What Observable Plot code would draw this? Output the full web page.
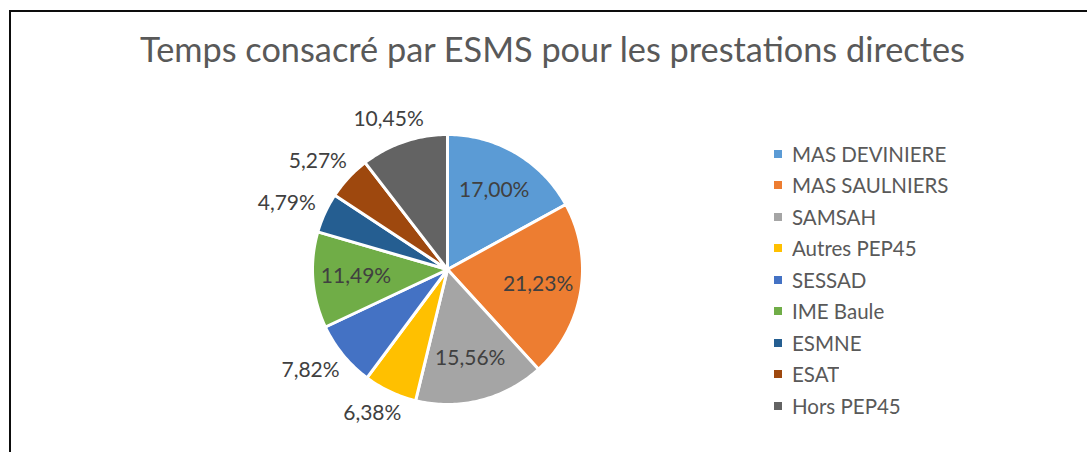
<!DOCTYPE html>
<html>
<head>
<meta charset="utf-8">
<script src="https://cdn.jsdelivr.net/npm/d3@7"></script>
<script src="https://cdn.jsdelivr.net/npm/@observablehq/plot@0.6"></script>
<style>
  html, body { margin: 0; padding: 0; background: #fff; }
  #wrap { position: relative; width: 1087px; height: 452px; overflow: hidden; background: #fff; font-family: Lato, "Open Sans", sans-serif; }
  #frame { position: absolute; left: 9px; top: 10px; width: 2000px; height: 2000px; border-left: 2px solid #0d0d0d; border-top: 2px solid #0d0d0d; box-sizing: border-box; }
  #title { position: absolute; left: 18px; width: 1069px; top: 30px; text-align: center; font-size: 34.3px; font-weight: 400; color: #595959; line-height: 38px; white-space: nowrap; }
  #chart { position: absolute; left: 0; top: 0; }
  #legend { position: absolute; left: 774px; top: 138px; }
  .lg-swatches { font-family: Lato, "Open Sans", sans-serif !important; font-size: 20.5px !important; color: #595959 !important; margin: 0 !important; min-height: 0 !important; }
  .lg-swatch { height: 31.5px !important; padding: 0 !important; margin: 0 !important; display: flex !important; align-items: center !important; }
  .lg-swatch svg { margin-right: 10px !important; }
</style>
</head>
<body>
<div id="wrap">
  <div id="frame"></div>
  <div id="chart"></div>
  <div id="title">Temps consacré par ESMS pour les prestations directes</div>
  <div id="legend"></div>
</div>
<script>
const names = ["MAS DEVINIERE", "MAS SAULNIERS", "SAMSAH", "Autres PEP45", "SESSAD", "IME Baule", "ESMNE", "ESAT", "Hors PEP45"];
const values = [17.00, 21.23, 15.56, 6.38, 7.82, 11.49, 4.79, 5.27, 10.45];
const colors = ["#5B9BD5", "#ED7D31", "#A5A5A5", "#FFC000", "#4472C4", "#70AD47", "#255E91", "#9E480E", "#636363"];

const cx = 447, cy = 269, R = 135;
const labelSize = 21;
const fmt = v => d3.format(".2f")(v).replace(".", ",") + "%";

const arcs = d3.pie().sort(null).value(d => d)(values);
const wedgePts = [];
const labelPts = [];
arcs.forEach((a, i) => {
  const n = Math.max(2, Math.ceil((a.endAngle - a.startAngle) / (2 * Math.PI) * 360));
  wedgePts.push({name: names[i], x: 0, y: 0});
  for (let k = 0; k <= n; k++) {
    const t = a.startAngle + (a.endAngle - a.startAngle) * k / n;
    wedgePts.push({name: names[i], x: Math.sin(t), y: Math.cos(t)});
  }
  wedgePts.push({name: names[i], x: 0, y: 0});
  const mid = (a.startAngle + a.endAngle) / 2;
  const dx = Math.sin(mid), dy = Math.cos(mid);
  const text = fmt(values[i]);
  if (values[i] >= 11) {
    labelPts.push({text, x: 0.68 * dx, y: 0.68 * dy});
  } else {
    // outside label: box placed just beyond the rim along the mid-angle
    const w = text.length * 11.6, h = 22, gap = 13;
    const px = dx * (R + gap) + dx * w / 2;
    const py = dy * (R + gap) + dy * h / 2;
    labelPts.push({text, x: px / R, y: py / R});
  }
});

const chart = Plot.plot({
  width: 1087,
  height: 452,
  margin: 0,
  style: {background: "transparent", fontFamily: "Lato, 'Open Sans', sans-serif"},
  x: {domain: [-1, 1], range: [cx - R, cx + R], axis: null},
  y: {domain: [-1, 1], range: [cy + R, cy - R], axis: null},
  color: {domain: names, range: colors},
  marks: [
    Plot.line(wedgePts, {x: "x", y: "y", z: "name", fill: "name", stroke: "white", strokeWidth: 3, strokeLinejoin: "round", curve: "linear"}),
    Plot.text(labelPts, {x: "x", y: "y", text: "text", fill: "#404040", fontSize: labelSize, fontFamily: "Lato, 'Open Sans', sans-serif"})
  ]
});
document.getElementById("chart").appendChild(chart);

const legend = Plot.legend({
  color: {type: "ordinal", domain: names, range: colors},
  legend: "swatches",
  columns: 1,
  swatchSize: 8,
  className: "lg"
});
document.getElementById("legend").appendChild(legend);
</script>
</body>
</html>
